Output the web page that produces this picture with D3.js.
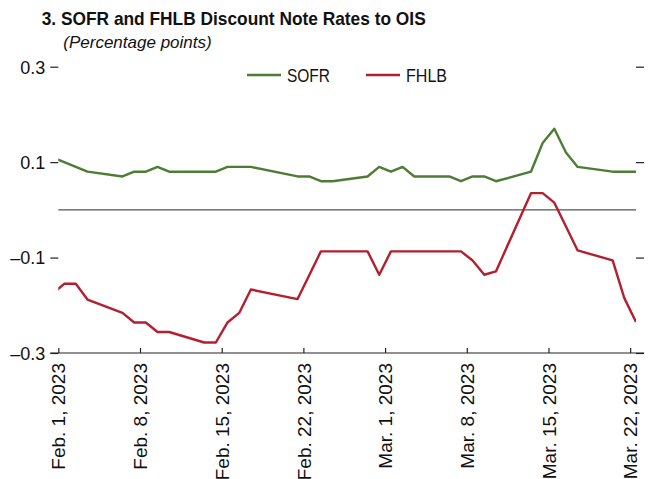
<!DOCTYPE html>
<html>
<head>
<meta charset="utf-8">
<script src="https://cdn.jsdelivr.net/npm/d3@7"></script>
<style>
  html, body { margin: 0; padding: 0; background: #fff; }
  #chart svg { display: block; }
</style>
</head>
<body>
<div id="chart"></div>
<script>
// observation dates (business days, Presidents' Day missing); Jan 31 is clipped at left edge
const DATES = [
  "2023-01-31",
  "2023-02-01", "2023-02-02", "2023-02-03", "2023-02-06", "2023-02-07", "2023-02-08",
  "2023-02-09", "2023-02-10", "2023-02-13", "2023-02-14", "2023-02-15", "2023-02-16",
  "2023-02-17", "2023-02-21", "2023-02-22", "2023-02-23", "2023-02-24", "2023-02-27",
  "2023-02-28", "2023-03-01", "2023-03-02", "2023-03-03", "2023-03-06", "2023-03-07",
  "2023-03-08", "2023-03-09", "2023-03-10", "2023-03-13", "2023-03-14", "2023-03-15",
  "2023-03-16", "2023-03-17", "2023-03-20", "2023-03-21", "2023-03-22"
];

const SOFR = [
  0.110,
  0.100, 0.090, 0.080, 0.070, 0.080, 0.080,
  0.090, 0.080, 0.080, 0.080, 0.090, 0.090,
  0.090, 0.070, 0.070, 0.060, 0.060, 0.070,
  0.090, 0.080, 0.090, 0.070, 0.070, 0.060,
  0.070, 0.070, 0.060, 0.080, 0.140, 0.170,
  0.120, 0.090, 0.080, 0.080, 0.080
];

const FHLB = [
  -0.176,
  -0.155, -0.155, -0.188, -0.216, -0.236, -0.236,
  -0.256, -0.256, -0.278, -0.278, -0.236, -0.216,
  -0.167, -0.187, -0.137, -0.087, -0.087, -0.087,
  -0.136, -0.087, -0.087, -0.087, -0.087, -0.087,
  -0.106, -0.136, -0.129, 0.035, 0.035, 0.015,
  -0.035, -0.085, -0.106, -0.185, -0.235
];

const X_TICKS = ["2023-02-01", "2023-02-08", "2023-02-15", "2023-02-22",
                 "2023-03-01", "2023-03-08", "2023-03-15", "2023-03-22"];
const X_TICK_LABELS = ["Feb. 1, 2023", "Feb. 8, 2023", "Feb. 15, 2023", "Feb. 22, 2023",
                       "Mar. 1, 2023", "Mar. 8, 2023", "Mar. 15, 2023", "Mar. 22, 2023"];
const Y_TICKS = [0.3, 0.1, -0.1, -0.3];

const SERIES = [
  { name: "SOFR", values: SOFR, color: "#4d7c35", labelWidth: 43 },
  { name: "FHLB", values: FHLB, color: "#b41f2f", labelWidth: 41 }
];

const TITLE = "3. SOFR and FHLB Discount Note Rates to OIS";
const SUBTITLE = "(Percentage points)";

const SANS = '"Liberation Sans", Arial, sans-serif';

const W = 648, H = 479;
const margin = { top: 66.7, right: 12, bottom: 126, left: 58.3 };
const plotW = 636 - margin.left;
const plotH = H - margin.top - margin.bottom;

const parse = d3.utcParse("%Y-%m-%d");
const hour = 3600 * 1000;
// points sit in the middle of their day slot
const mid = s => new Date(parse(s).getTime() + 12 * hour);

const svg = d3.select("#chart")
  .append("svg")
  .attr("width", W)
  .attr("height", H);

// condensed look: squeeze Liberation Sans to the reference width
svg.append("text")
  .attr("x", 41.7)
  .attr("y", 25)
  .attr("font-family", SANS)
  .attr("font-weight", "bold")
  .attr("font-size", "18.5px")
  .attr("fill", "#111")
  .attr("textLength", 384)
  .attr("lengthAdjust", "spacingAndGlyphs")
  .text(TITLE);

svg.append("text")
  .attr("x", 63.3)
  .attr("y", 48.3)
  .attr("font-family", SANS)
  .attr("font-style", "italic")
  .attr("font-size", "17px")
  .attr("fill", "#111")
  .text(SUBTITLE);

const g = svg.append("g")
  .attr("transform", `translate(${margin.left},${margin.top})`);

const x = d3.scaleUtc()
  .domain([parse("2023-02-01"), mid("2023-03-22")])
  .range([0, plotW]);

const y = d3.scaleLinear()
  .domain([-0.3, 0.3])
  .range([plotH, 0]);

const fmt = v => (v < 0 ? "\u2013" : "") + Math.abs(v).toFixed(1);

// left axis
const yAxisL = g.append("g")
  .call(d3.axisLeft(y).tickValues(Y_TICKS).tickSize(8).tickPadding(5).tickFormat(fmt));
yAxisL.select(".domain").remove();
yAxisL.selectAll("line").attr("stroke", "#222").attr("stroke-width", 1.2);
yAxisL.selectAll("text")
  .attr("font-family", SANS)
  .attr("font-size", "18px")
  .attr("fill", "#111")
  .attr("dy", "0.35em");

// right axis ticks only
const yAxisR = g.append("g")
  .attr("transform", `translate(${plotW},0)`)
  .call(d3.axisRight(y).tickValues(Y_TICKS).tickSize(8).tickFormat(""));
yAxisR.select(".domain").remove();
yAxisR.selectAll("line").attr("stroke", "#222").attr("stroke-width", 1.2);

// zero line
g.append("line")
  .attr("x1", 0)
  .attr("x2", plotW)
  .attr("y1", y(0))
  .attr("y2", y(0))
  .attr("stroke", "#555")
  .attr("stroke-width", 1.2);

// bottom axis
const xAxis = g.append("g")
  .attr("transform", `translate(0,${plotH})`)
  .call(d3.axisBottom(x)
    .tickValues(X_TICKS.map(parse))
    .tickSize(-5)
    .tickFormat((d, i) => X_TICK_LABELS[i]));
xAxis.select(".domain").remove();
xAxis.selectAll("line").attr("stroke", "#222").attr("stroke-width", 1.2);
xAxis.append("line")
  .attr("x1", -8)
  .attr("x2", plotW + 8)
  .attr("stroke", "#222")
  .attr("stroke-width", 1.2);
xAxis.selectAll("text")
  .attr("font-family", SANS)
  .attr("font-size", "19px")
  .attr("fill", "#111")
  .attr("text-anchor", "end")
  .attr("transform", "rotate(-90)")
  .attr("x", -10)
  .attr("y", 0)
  .attr("dy", "0.35em");

// lines
g.append("clipPath")
  .attr("id", "plot-clip")
  .append("rect")
  .attr("x", 0)
  .attr("y", -margin.top)
  .attr("width", plotW)
  .attr("height", H);

const line = d3.line()
  .x((d, i) => x(mid(DATES[i])))
  .y(d => y(d));

g.append("g")
  .attr("clip-path", "url(#plot-clip)")
  .selectAll("path")
  .data(SERIES)
  .enter()
  .append("path")
  .attr("fill", "none")
  .attr("stroke", d => d.color)
  .attr("stroke-width", 2.4)
  .attr("stroke-linejoin", "round")
  .attr("d", d => line(d.values));

// legend
const legendX = [247, 366];
const legend = svg.append("g")
  .selectAll("g")
  .data(SERIES)
  .enter()
  .append("g")
  .attr("transform", (d, i) => `translate(${legendX[i]},75)`);

legend.append("line")
  .attr("x1", 0)
  .attr("x2", 34)
  .attr("stroke", d => d.color)
  .attr("stroke-width", 2.6);

legend.append("text")
  .attr("x", 40)
  .attr("dy", "0.36em")
  .attr("font-family", SANS)
  .attr("font-size", "19px")
  .attr("fill", "#111")
  .attr("textLength", d => d.labelWidth)
  .attr("lengthAdjust", "spacingAndGlyphs")
  .text(d => d.name);
</script>
</body>
</html>
